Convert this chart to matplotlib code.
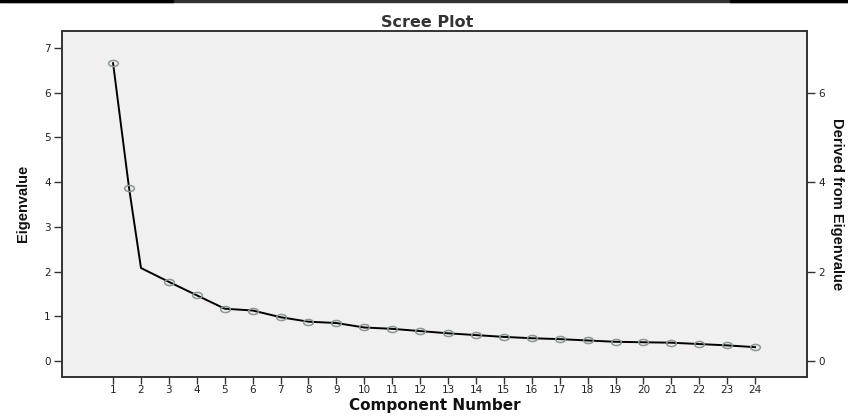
import matplotlib.pyplot as plt
from matplotlib.path import Path
from matplotlib.transforms import Affine2D
from matplotlib.patches import Rectangle

# Scree plot values
component_pos = [1, 1.57, 2, 3, 4, 5, 6, 7, 8, 9, 10, 11, 12,
                 13, 14, 15, 16, 17, 18, 19, 20, 21, 22, 23, 24]
eigenvalues = [6.66, 3.88, 2.08, 1.77, 1.47, 1.17, 1.13, 0.98, 0.88, 0.85, 0.75, 0.72, 0.67,
               0.62, 0.58, 0.54, 0.51, 0.49, 0.46, 0.43, 0.42, 0.41, 0.38, 0.35, 0.31]
# markers are drawn on every point except the elbow at 2
marker_idx = [0, 1] + list(range(3, 25))
x_ticks = list(range(1, 25))
left_ticks = list(range(0, 8))
right_ticks = [0, 2, 4, 6]

title = "Scree Plot"
xlabel = "Component Number"
ylabel = "Eigenvalue"
ylabel_right = "Derived from Eigenvalue"

frame_col = "#333333"

fig = plt.figure(figsize=(8.48, 4.16), dpi=100)
ax = fig.add_axes([0.0731, 0.0945, 0.8786, 0.831])
ax.set_facecolor("#f0f0f0")

ell = Path.unit_circle().transformed(Affine2D().scale(1.6, 1.0))

ax.plot(component_pos, eigenvalues, color="black", lw=1.4, zorder=2)
ax.plot([component_pos[i] for i in marker_idx], [eigenvalues[i] for i in marker_idx],
        ls="none", marker=ell, ms=7, mfc="none", mec="#8a9893", mew=1.1, zorder=3)

ax.set_xlim(-0.83, 25.86)
ax.set_ylim(-0.35, 7.38)
ax.set_xticks(x_ticks)
ax.set_yticks(left_ticks)
ax.tick_params(axis="both", direction="out", colors=frame_col, labelcolor="#222222",
               labelsize=7.5, length=6, width=1.0)
ax.tick_params(axis="x", length=5, pad=1)
ax.tick_params(axis="y", pad=2)
for s in ax.spines.values():
    s.set_color(frame_col)
    s.set_linewidth(1.2)

ax2 = ax.twinx()
ax2.set_ylim(ax.get_ylim())
ax2.set_yticks(right_ticks)
ax2.tick_params(axis="y", direction="out", colors=frame_col, labelcolor="#222222",
                labelsize=7.5, length=6, width=1.0, pad=2)
for s in ax2.spines.values():
    s.set_color(frame_col)
    s.set_linewidth(1.2)

ax.set_title(title, fontsize=11.5, fontweight="bold", color="#333333", pad=3,
             family="DejaVu Sans", x=0.49)
ax.set_xlabel(xlabel, fontsize=11, fontweight="bold", color="#111111", labelpad=2,
              family="DejaVu Sans")
ax.set_ylabel(ylabel, fontsize=10.5, fontweight="bold", color="#111111", labelpad=10,
              family=["Liberation Sans Narrow", "Liberation Sans"])
ax2.set_ylabel(ylabel_right, fontsize=10.5, fontweight="bold", color="#111111",
               rotation=270, labelpad=14,
               family=["Liberation Sans Narrow", "Liberation Sans"])

# dark scan bar along the top edge
fig.patches.append(Rectangle((0, 0.994), 1, 0.006, transform=fig.transFigure,
                             color="#333333", zorder=0))
fig.patches.append(Rectangle((0, 0.994), 0.204, 0.006, transform=fig.transFigure,
                             color="black", zorder=1))
fig.patches.append(Rectangle((0.861, 0.994), 0.139, 0.006, transform=fig.transFigure,
                             color="black", zorder=1))

fig.savefig("out.png", dpi=100)
